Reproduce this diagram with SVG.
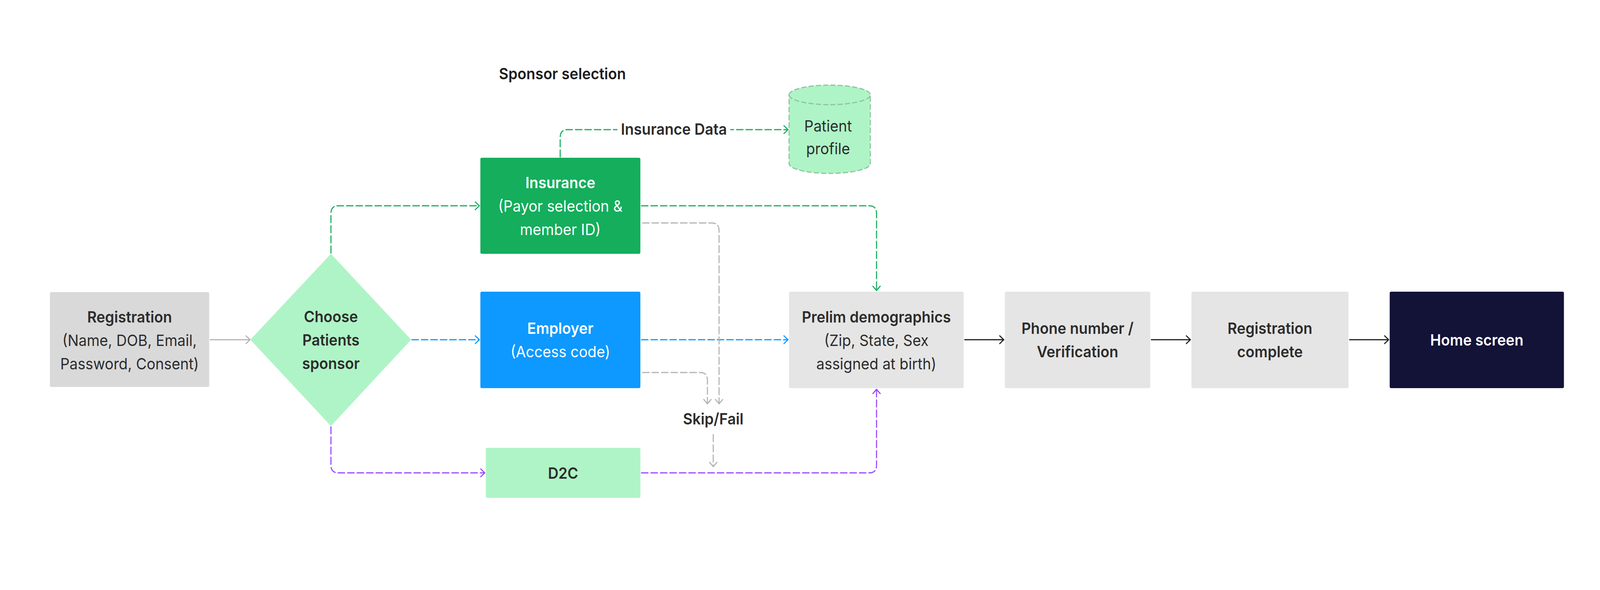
<svg xmlns="http://www.w3.org/2000/svg" width="4390" height="1511" viewBox="0 0 4390 1511">
<style>
text{font-family:Inter,"Noto Sans","Liberation Sans",sans-serif;font-size:40px;fill:#2C2C2C;text-anchor:middle}
.b{font-weight:600}
.w{fill:#FFFFFF}
.k{fill:#1E1E1E}
.c{fill:none;stroke-width:3;stroke-linecap:round;stroke-linejoin:round}
.d{stroke-dasharray:18 8}
.green{stroke:#16AE5E}
.blue{stroke:#0D99FF}
.purple{stroke:#9747FF}
.gray{stroke:#B3B3B3}
.black{stroke:#1E1E1E}
</style>
<defs>
<marker id="mGreen" markerUnits="userSpaceOnUse" viewBox="-14 -13 17 26" refX="0" refY="0" markerWidth="17" markerHeight="26" orient="auto"><path d="M-11,-10 L0,0 L-11,10" fill="none" stroke="#16AE5E" stroke-width="3" stroke-linecap="round" stroke-linejoin="round"/></marker>
<marker id="mBlue" markerUnits="userSpaceOnUse" viewBox="-14 -13 17 26" refX="0" refY="0" markerWidth="17" markerHeight="26" orient="auto"><path d="M-11,-10 L0,0 L-11,10" fill="none" stroke="#0D99FF" stroke-width="3" stroke-linecap="round" stroke-linejoin="round"/></marker>
<marker id="mPurple" markerUnits="userSpaceOnUse" viewBox="-14 -13 17 26" refX="0" refY="0" markerWidth="17" markerHeight="26" orient="auto"><path d="M-11,-10 L0,0 L-11,10" fill="none" stroke="#9747FF" stroke-width="3" stroke-linecap="round" stroke-linejoin="round"/></marker>
<marker id="mGray" markerUnits="userSpaceOnUse" viewBox="-14 -13 17 26" refX="0" refY="0" markerWidth="17" markerHeight="26" orient="auto"><path d="M-11,-10 L0,0 L-11,10" fill="none" stroke="#B3B3B3" stroke-width="3" stroke-linecap="round" stroke-linejoin="round"/></marker>
<marker id="mBlack" markerUnits="userSpaceOnUse" viewBox="-14 -13 17 26" refX="0" refY="0" markerWidth="17" markerHeight="26" orient="auto"><path d="M-11,-10 L0,0 L-11,10" fill="none" stroke="#1E1E1E" stroke-width="3" stroke-linecap="round" stroke-linejoin="round"/></marker>
</defs>
<rect width="4390" height="1511" fill="#FFFFFF"/>

<g id="diagram" transform="scale(0.93303,1)">
<text id="title" class="b k" x="1369" y="203" style="text-anchor:start">Sponsor selection</text>

<g id="connectors">
<path class="c gray" d="M577,870 H686" marker-end="url(#mGray)"/>
<path class="c d green" d="M908,648 V547 Q908,527 928,527 H1315" marker-end="url(#mGreen)"/>
<path class="c d blue" d="M1130,870 H1315" marker-end="url(#mBlue)"/>
<path class="c d purple" d="M908,1093 V1191 Q908,1211 928,1211 H1330" marker-end="url(#mPurple)"/>
<path class="c d green" d="M1537,402 V352 Q1537,332 1557,332 H2162" marker-end="url(#mGreen)"/>
<rect x="1694" y="300" width="310" height="60" fill="#FFFFFF"/>
<text class="b" x="1849" y="345">Insurance Data</text>
<path class="c d green" d="M1760,527 H2385 Q2405,527 2405,547 V744" marker-end="url(#mGreen)"/>
<path class="c d blue" d="M1760,870 H2162" marker-end="url(#mBlue)"/>
<path class="c d purple" d="M1760,1211 H2385 Q2405,1211 2405,1191 V997" marker-end="url(#mPurple)"/>
<path class="c d gray" d="M1763,571 H1953 Q1973,571 1973,591 V1034" marker-end="url(#mGray)"/>
<path class="c d gray" d="M1763,954 H1921 Q1941,954 1941,974 V1034" marker-end="url(#mGray)"/>
<text class="b" x="1957" y="1087">Skip/Fail</text>
<path class="c d gray" d="M1957,1113 V1195" marker-end="url(#mGray)"/>
<path class="c black" d="M2647,870 H2754" marker-end="url(#mBlack)"/>
<path class="c black" d="M3159,870 H3266" marker-end="url(#mBlack)"/>
<path class="c black" d="M3703,870 H3810" marker-end="url(#mBlack)"/>
</g>

<g id="registration">
<rect x="137" y="748" width="437" height="243" rx="4" fill="#D9D9D9"/>
<text class="b" x="355.5" y="826">Registration</text>
<text x="355.5" y="886">(Name, DOB, Email,</text>
<text x="355.5" y="946">Password, Consent)</text>
</g>

<g id="choose-sponsor">
<path d="M908,650 L1128,870 L908,1091 L687,870 Z" fill="#AFF4C6"/>
<text class="b" x="908" y="825">Choose</text>
<text class="b" x="908" y="885">Patients</text>
<text class="b" x="908" y="945">sponsor</text>
</g>

<g id="insurance">
<rect x="1318" y="404" width="439" height="246" rx="4" fill="#14AE5C"/>
<text class="b w" x="1537.5" y="482">Insurance</text>
<text class="w" x="1537.5" y="542">(Payor selection &amp;</text>
<text class="w" x="1537.5" y="602">member ID)</text>
</g>

<g id="patient-profile">
<path d="M2165,243 A111.5,25 0 0 1 2388,243 V419 A111.5,25 0 0 1 2165,419 Z" fill="#AFF4C6" stroke="#8CC5A0" stroke-width="3" stroke-dasharray="14 6"/>
<path d="M2165,243 A111.5,25 0 0 0 2388,243" fill="none" stroke="#8CC5A0" stroke-width="3" stroke-dasharray="14 6"/>
<text x="2272" y="337">Patient</text>
<text x="2272" y="395">profile</text>
</g>

<g id="employer">
<rect x="1318" y="747" width="439" height="247" rx="4" fill="#0D99FF"/>
<text class="b w" x="1537.5" y="855">Employer</text>
<text class="w" x="1537.5" y="915">(Access code)</text>
</g>

<g id="d2c">
<rect x="1333" y="1147" width="424" height="128" rx="4" fill="#AFF4C6"/>
<text class="b" x="1545" y="1226">D2C</text>
</g>

<g id="prelim-demographics">
<rect x="2165" y="747" width="479" height="247" rx="4" fill="#E5E5E5"/>
<text class="b" x="2404.5" y="826">Prelim demographics</text>
<text x="2404.5" y="886">(Zip, State, Sex</text>
<text x="2404.5" y="946">assigned at birth)</text>
</g>

<g id="phone-verification">
<rect x="2757" y="747" width="399" height="247" rx="4" fill="#E5E5E5"/>
<text class="b" x="2956.5" y="855">Phone number /</text>
<text class="b" x="2956.5" y="915">Verification</text>
</g>

<g id="registration-complete">
<rect x="3269" y="747" width="431" height="247" rx="4" fill="#E5E5E5"/>
<text class="b" x="3484.5" y="855">Registration</text>
<text class="b" x="3484.5" y="915">complete</text>
</g>

<g id="home-screen">
<rect x="3813" y="747" width="478" height="247" rx="4" fill="#131237"/>
<text class="b w" x="4052" y="885">Home screen</text>
</g>
</g>
</svg>
